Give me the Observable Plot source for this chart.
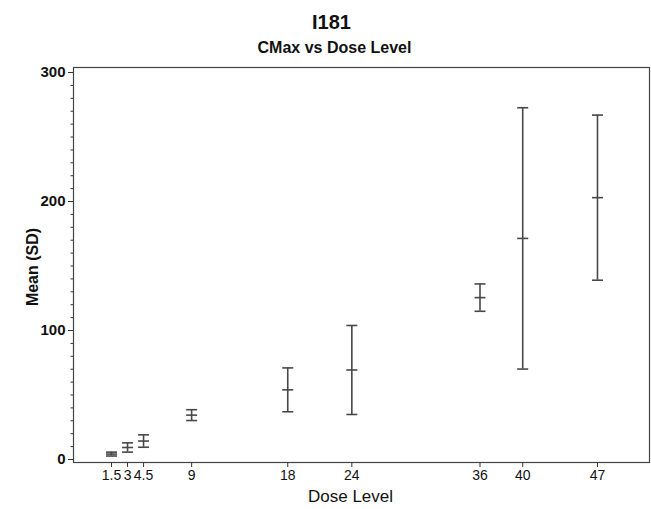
<!DOCTYPE html>
<html>
<head>
<meta charset="utf-8">
<script src="https://cdn.jsdelivr.net/npm/d3@7"></script>
<script src="https://cdn.jsdelivr.net/npm/@observablehq/plot@0.6"></script>
<style>
  html, body { margin: 0; padding: 0; background: #fff; }
  #wrap { position: relative; width: 651px; height: 509px; font-family: "Liberation Sans", Arial, sans-serif; }
  .t { position: absolute; width: 400px; text-align: center; font-weight: bold; color: #111; white-space: nowrap; }
  #title { left: 131.5px; top: 11.5px; font-size: 20px; line-height: 20px; }
  #subtitle { left: 134.5px; top: 40px; font-size: 16px; line-height: 16px; }
  #chart { position: absolute; left: 0; top: 0; }
</style>
</head>
<body>
<div id="wrap">
  <div id="chart"></div>
  <div class="t" id="title">I181</div>
  <div class="t" id="subtitle">CMax vs Dose Level</div>
</div>
<script>
const doses = [1.5, 3, 4.5, 9, 18, 24, 36, 40, 47];
const doseLabels = ["1.5", "3", "4.5", "9", "18", "24", "36", "40", "47"];
const means = [4.2, 9.3, 14.3, 34.4, 54, 69.4, 125.5, 171.4, 203];
const sds = [1.5, 3.6, 4.8, 4.2, 17, 34.5, 10.6, 101.3, 64];
const yTicks = [0, 100, 200, 300];
const yMinorTicks = d3.range(0, 301, 10);
const xLabel = "Dose Level";
const yLabel = "Mean (SD)";

const data = doses.map((d, i) => ({dose: d, mean: means[i], lo: means[i] - sds[i], hi: means[i] + sds[i]}));
const caps = data.flatMap(d => [{dose: d.dose, v: d.lo}, {dose: d.dose, v: d.mean}, {dose: d.dose, v: d.hi}]);

const hline = {
  draw(ctx, size) {
    const r = Math.sqrt(size / Math.PI);
    ctx.moveTo(-r, 0);
    ctx.lineTo(r, 0);
  }
};

const barColor = "#484848";
const family = "'Liberation Sans', Arial, sans-serif";

const chart = Plot.plot({
  width: 651,
  height: 509,
  marginTop: 67,
  marginBottom: 47,
  marginLeft: 73,
  marginRight: 2,
  style: {fontFamily: family, color: "#111", background: "#fff"},
  x: {type: "linear", domain: [-2.06, 51.87]},
  y: {type: "linear", domain: [-2.33, 303.9]},
  marks: [
    Plot.frame({stroke: "#444", strokeWidth: 1.2}),
    Plot.axisY(yMinorTicks, {tickSize: 2.5, tickFormat: () => "", label: null, stroke: "#333"}),
    Plot.axisY(yTicks, {tickSize: 5, tickPadding: 3, fontSize: 15, fontWeight: "bold", label: null, stroke: "#333"}),
    Plot.axisX(doses, {tickSize: 5, tickPadding: 3, fontSize: 14, label: null, stroke: "#333",
      tickFormat: d => doseLabels[doses.indexOf(d)]}),
    Plot.text([xLabel], {frameAnchor: "bottom", textAnchor: "middle", dx: -11, dy: 27, lineAnchor: "top", fontSize: 17, fill: "#111"}),
    Plot.text([yLabel], {frameAnchor: "left", textAnchor: "middle", dx: -41, dy: 2, rotate: -90, fontSize: 16, fontWeight: "bold", fill: "#111"}),
    Plot.ruleX(data, {x: "dose", y1: "lo", y2: "hi", stroke: barColor, strokeWidth: 1.6}),
    Plot.dot(caps, {x: "dose", y: "v", symbol: hline, r: 5.5, fill: "none", stroke: barColor, strokeWidth: 1.6})
  ]
});

document.getElementById("chart").appendChild(chart);
</script>
</body>
</html>
